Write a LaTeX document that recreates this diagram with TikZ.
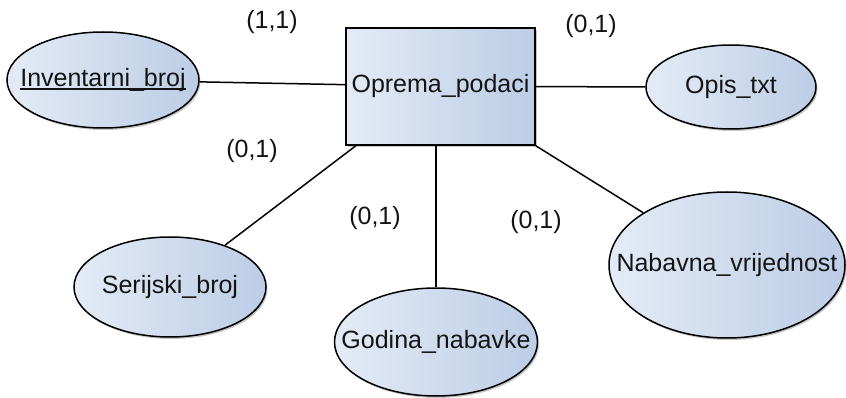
\documentclass[tikz,border=0pt]{standalone}
\usepackage{fontspec}
\setmainfont{Liberation Sans}
\usetikzlibrary{shapes.geometric,shadows}
\definecolor{fillL}{RGB}{228,235,246}
\definecolor{fillR}{RGB}{188,205,230}
\definecolor{txt}{RGB}{20,20,20}
\newcommand\zw[1]{\makebox[0pt]{#1}}
\newcommand\ulkey[1]{\setbox0\hbox{#1}\rlap{\rule[-3.5pt]{\wd0}{1.5pt}}\box0}
\begin{document}
\begin{tikzpicture}[x=1pt,y=-1pt,
  font=\fontsize{25}{29}\selectfont,
  text=txt,
  shapebase/.style={draw=black,line width=1.5pt,left color=fillL,right color=fillR,inner sep=0pt,
     drop shadow={shadow xshift=1.5pt,shadow yshift=-2pt,opacity=0.22,fill=black}},
  entbox/.style={shapebase,rectangle,minimum width=189pt,minimum height=117pt},
  attr/.style={shapebase,ellipse},
  card/.style={inner sep=0pt},
  conn/.style={line width=1.5pt,draw=black}]
\useasboundingbox (0,0) rectangle (846,398);

\node[entbox] (rect) at (440.5,86.5) {\zw{Oprema\_podaci}};
\node[attr,minimum width=192pt,minimum height=96pt] (inv) at (103,80) {\zw{\ulkey{Inventarni\_broj}}};
\node[attr,minimum width=170pt,minimum height=84pt] (opis) at (731,87) {\zw{Opis\_txt}};
\node[attr,minimum width=192pt,minimum height=100pt] (ser) at (170,287) {\zw{Serijski\_broj}};
\node[attr,minimum width=203pt,minimum height=108pt] (god) at (436,342) {\zw{Godina\_nabavke}};
\node[attr,minimum width=236pt,minimum height=146pt] (nab) at (727,265) {\zw{Nabavna\_vrijednost}};

\draw[conn] (inv) -- (rect);
\draw[conn] (rect) -- (opis);
\draw[conn] (rect.215.67) -- (ser);
\draw[conn] (god.north) -- (god.north |- rect.south);
\draw[conn] (rect.south east) -- (nab);

\node[card] (c1) at (272,22) {(1,1)};
\node[card] (c2) at (252,151) {(0,1)};
\node[card] (c3) at (591,26) {(0,1)};
\node[card] (c4) at (375,218) {(0,1)};
\node[card] (c5) at (536,222) {(0,1)};
\end{tikzpicture}
\end{document}
